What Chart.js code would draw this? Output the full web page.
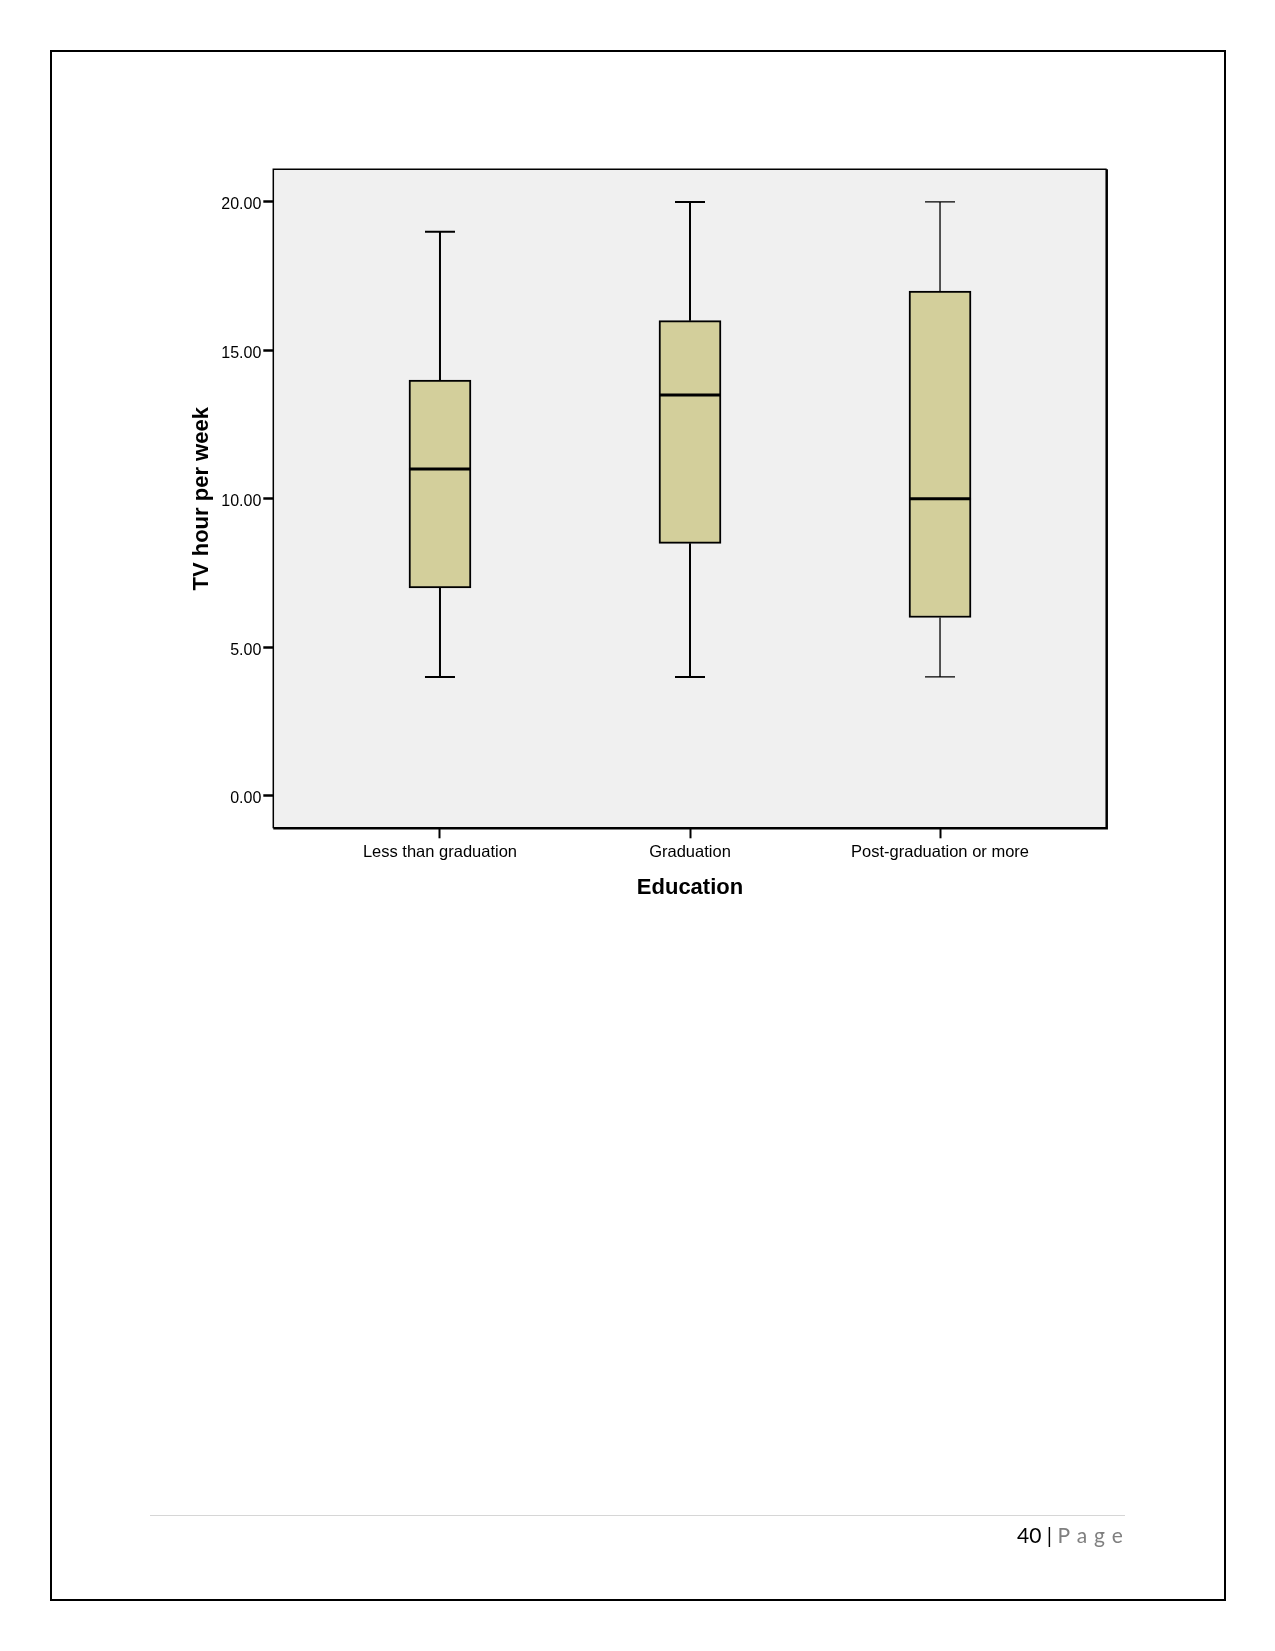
<!DOCTYPE html>
<html>
<head>
<meta charset="utf-8">
<script src="https://cdn.jsdelivr.net/npm/chart.js@4/dist/chart.umd.min.js"></script>
<style>
  html, body { margin: 0; padding: 0; background: #fff; }
  body { width: 1275px; height: 1651px; position: relative; overflow: hidden; }
  #page { position: absolute; left: 50px; top: 50px; width: 1172px; height: 1547px; border: 2px solid #000; }
  #chartWrap { position: absolute; left: 0; top: 0; width: 1275px; height: 1651px; }
  #footLine { position: absolute; left: 150px; top: 1515px; width: 975px; height: 0; border-top: 1.5px solid #d6d6d6; }
  #footer { position: absolute; left: 1017px; top: 1522px; font-family: Lato, "Open Sans", sans-serif; font-size: 21px; color: #000; white-space: nowrap; }
  #footer .pg { color: #7f7f7f; letter-spacing: 7px; }
</style>
</head>
<body>
<div id="page"></div>
<div id="chartWrap"><canvas id="c" width="1275" height="1651"></canvas></div>
<div id="footLine"></div>
<div id="footer">40 | <span class="pg">Page</span></div>
<script>
// ---- data ----
const categories = ["Less than graduation", "Graduation", "Post-graduation or more"];
const whiskerMin = [4, 4, 4];
const q1 = [7, 8.5, 6];
const median = [11, 13.5, 10];
const q3 = [14, 16, 17];
const whiskerMax = [19, 20, 20];
const yTicks = [0, 5, 10, 15, 20];
const yLabel = "TV hour per week";
const xLabel = "Education";

// ---- styles ----
const boxFill = "#D3CF9B";
const plotBg = "#F0F0F0";
const whiskerWidths = [2, 2, 1.3];
const fontFam = "'Liberation Sans', Arial, sans-serif";

const boxPlugin = {
  id: "boxExtras",
  beforeDatasetsDraw(chart) {
    const {ctx, chartArea: a} = chart;
    ctx.save();
    ctx.fillStyle = plotBg;
    ctx.fillRect(a.left, a.top, a.right - a.left, a.bottom - a.top);
    ctx.restore();
    const xs = chart.scales.x, ys = chart.scales.y;
    ctx.save();
    ctx.strokeStyle = "#000";
    categories.forEach((c, i) => {
      const x = xs.getPixelForValue(i);
      const capHalf = 15;
      ctx.lineWidth = whiskerWidths[i];
      const yMax = ys.getPixelForValue(whiskerMax[i]);
      const yMin = ys.getPixelForValue(whiskerMin[i]);
      ctx.beginPath();
      ctx.moveTo(x, yMax);
      ctx.lineTo(x, ys.getPixelForValue(q3[i]));
      ctx.moveTo(x, ys.getPixelForValue(q1[i]));
      ctx.lineTo(x, yMin);
      ctx.moveTo(x - capHalf, yMax); ctx.lineTo(x + capHalf, yMax);
      ctx.moveTo(x - capHalf, yMin); ctx.lineTo(x + capHalf, yMin);
      ctx.stroke();
    });
    ctx.restore();
  },
  afterDatasetsDraw(chart) {
    const {ctx} = chart;
    const xs = chart.scales.x, ys = chart.scales.y;
    ctx.save();
    ctx.strokeStyle = "#000";
    ctx.lineWidth = 3;
    categories.forEach((c, i) => {
      const x = xs.getPixelForValue(i);
      const y = ys.getPixelForValue(median[i]);
      ctx.beginPath();
      ctx.moveTo(x - 31, y);
      ctx.lineTo(x + 31, y);
      ctx.stroke();
    });
    ctx.restore();
  },
  afterDraw(chart) {
    const {ctx, chartArea: a} = chart;
    ctx.save();
    ctx.strokeStyle = "#000";
    ctx.lineWidth = 1.5;
    ctx.beginPath();
    ctx.moveTo(a.left, a.bottom); ctx.lineTo(a.left, a.top); ctx.lineTo(a.right, a.top);
    ctx.stroke();
    ctx.lineWidth = 2.5;
    ctx.beginPath();
    ctx.moveTo(a.left, a.bottom); ctx.lineTo(a.right, a.bottom); ctx.lineTo(a.right, a.top);
    ctx.stroke();
    ctx.restore();
  }
};

new Chart(document.getElementById("c"), {
  type: "bar",
  data: {
    datasets: [{
      data: categories.map((c, i) => ({x: i, y: [q1[i], q3[i]]})),
      backgroundColor: boxFill,
      borderColor: "#000",
      borderWidth: 2,
      borderSkipped: false,
      barThickness: 62
    }]
  },
  options: {
    responsive: false,
    devicePixelRatio: 1,
    animation: false,
    layout: { padding: { left: 0, top: 169.3, right: 168.3, bottom: 742.7 } },
    plugins: { legend: { display: false }, tooltip: { enabled: false } },
    scales: {
      x: {
        type: "linear",
        offset: false,
        min: -2/3,
        max: 8/3,
        afterBuildTicks: s => { s.ticks = categories.map((c, i) => ({value: i})); },
        afterFit: s => { s.height = 80; },
        border: { display: false },
        grid: { offset: false, drawOnChartArea: false, drawTicks: true, tickLength: 10, tickWidth: 2, tickColor: "#000" },
        ticks: {
          autoSkip: false, maxRotation: 0, padding: 4, color: "#000",
          font: { family: fontFam, size: 16.5 },
          callback: v => categories[v]
        },
        title: { display: true, text: xLabel, color: "#000", padding: { top: 0, bottom: 7 },
                 font: { family: fontFam, size: 22, weight: "bold" } }
      },
      y: {
        min: -1.1,
        max: 21.1,
        afterBuildTicks: s => { s.ticks = yTicks.map(v => ({value: v})); },
        afterFit: s => { s.width = 273.3; },
        border: { display: false },
        grid: { drawOnChartArea: false, drawTicks: true, tickLength: 10, tickWidth: 2.5, tickColor: "#000" },
        ticks: {
          padding: 2, color: "#000", labelOffset: 3,
          font: { family: fontFam, size: 16 },
          callback: v => Number(v).toFixed(2)
        },
        title: { display: true, text: yLabel, color: "#000", padding: { top: 188.8, bottom: 0 },
                 font: { family: fontFam, size: 22, weight: "bold" } }
      }
    }
  },
  plugins: [boxPlugin]
});
</script>
</body>
</html>
